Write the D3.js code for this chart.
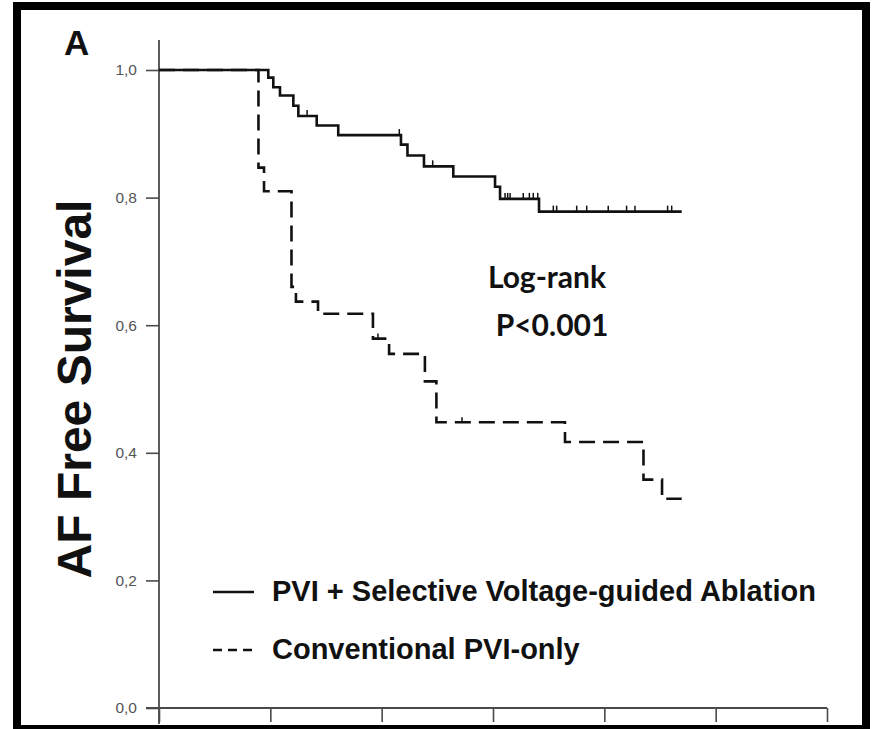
<!DOCTYPE html>
<html>
<head>
<meta charset="utf-8">
<script src="https://cdn.jsdelivr.net/npm/d3@7"></script>
<style>
  html, body { margin: 0; padding: 0; background: #fff; }
  svg { display: block; }
</style>
</head>
<body>
<svg id="chart" width="875" height="729"></svg>
<script>
// ---- data ----
const xTicks = [0, 6, 12, 18, 24, 30, 36];
const yTicks = [0, 0.2, 0.4, 0.6, 0.8, 1.0];
const yTickLabels = ["0,0", "0,2", "0,4", "0,6", "0,8", "1,0"];

const seriesNames = ["PVI + Selective Voltage-guided Ablation", "Conventional PVI-only"];

const solidTimes = [0, 5.89, 6.16, 6.52, 7.24, 7.51, 8.50, 9.66, 13.04, 13.39, 14.28, 15.86, 18.11, 18.38, 20.48, 28.17];
const solidSurv  = [1, 0.988, 0.973, 0.960, 0.944, 0.928, 0.913, 0.898, 0.883, 0.866, 0.849, 0.833, 0.817, 0.798, 0.778, 0.778];
const solidCensor = [7.98, 12.95, 14.75, 18.65, 18.79, 18.92, 19.63, 19.96, 20.17, 20.41, 21.25, 21.43, 22.51, 23.05, 24.21, 25.2, 25.65, 27.41, 27.63];

const dashedTimes = [0, 5.36, 5.66, 7.14, 7.38, 8.57, 11.53, 12.40, 14.33, 14.95, 21.88, 26.11, 27.11, 28.17];
const dashedSurv  = [1, 0.847, 0.81, 0.66, 0.637, 0.618, 0.579, 0.555, 0.512, 0.448, 0.417, 0.358, 0.328, 0.328];
const dashedCensor = [11.80, 16.33];

const yAxisTitle = "AF Free Survival";
const panelLabel = "A";
const statLines = ["Log-rank", "P<0.001"];

// ---- layout ----
const svg = d3.select("#chart");
const x = d3.scaleLinear().domain([0, 36]).range([159, 827]);
const y = d3.scaleLinear().domain([0, 1]).range([708, 70]);
const ink = "#111";
const axisGrey = "#4a4a4a";

// frame
svg.append("rect").attr("x", 17).attr("y", 6).attr("width", 849).attr("height", 723)
  .attr("fill", "none").attr("stroke", "#000").attr("stroke-width", 8);

// y axis
const yAxis = d3.axisLeft(y).tickValues(yTicks).tickSize(13).tickPadding(9)
  .tickFormat((d, i) => yTickLabels[i]);
const gy = svg.append("g").attr("transform", `translate(${x(0)},0)`).call(yAxis);
gy.select(".domain").remove();
gy.selectAll(".tick line").attr("stroke", axisGrey).attr("stroke-width", 1.6);
gy.selectAll(".tick text").attr("fill", "#555").attr("font-family", "Liberation Sans, Arial, sans-serif")
  .attr("font-size", 15.5);
svg.append("line").attr("x1", x(0)).attr("x2", x(0)).attr("y1", 40).attr("y2", 724)
  .attr("stroke", axisGrey).attr("stroke-width", 1.8);

// x axis
const xAxis = d3.axisBottom(x).tickValues(xTicks).tickSize(14).tickFormat("");
const gx = svg.append("g").attr("transform", `translate(0,${y(0)})`).call(xAxis);
gx.select(".domain").remove();
gx.selectAll(".tick line").attr("stroke", axisGrey).attr("stroke-width", 1.6);
svg.append("line").attr("x1", 146).attr("x2", x(36)).attr("y1", y(0)).attr("y2", y(0))
  .attr("stroke", axisGrey).attr("stroke-width", 1.8);

// KM curves
const line = d3.line().curve(d3.curveStepAfter).x(d => x(d[0])).y(d => y(d[1]));
const dashedData = dashedTimes.map((t, i) => [t, dashedSurv[i]]);
const solidData = solidTimes.map((t, i) => [t, solidSurv[i]]);

svg.append("path").datum(dashedData).attr("d", line).attr("fill", "none")
  .attr("stroke", ink).attr("stroke-width", 2.6).attr("stroke-dasharray", "16,8");
svg.append("path").datum(solidData).attr("d", line).attr("fill", "none")
  .attr("stroke", ink).attr("stroke-width", 2.6);

function levelAt(times, surv, t) {
  const i = d3.bisectRight(times, t) - 1;
  return surv[Math.max(0, i)];
}
svg.append("g").selectAll("line").data(solidCensor).join("line")
  .attr("x1", d => x(d)).attr("x2", d => x(d))
  .attr("y1", d => y(levelAt(solidTimes, solidSurv, d)))
  .attr("y2", d => y(levelAt(solidTimes, solidSurv, d)) - 6)
  .attr("stroke", ink).attr("stroke-width", 1.5);
svg.append("g").selectAll("line").data(dashedCensor).join("line")
  .attr("x1", d => x(d)).attr("x2", d => x(d))
  .attr("y1", d => y(levelAt(dashedTimes, dashedSurv, d)))
  .attr("y2", d => y(levelAt(dashedTimes, dashedSurv, d)) - 5)
  .attr("stroke", ink).attr("stroke-width", 1.5);

// panel label
svg.append("text").attr("x", 64).attr("y", 55).text(panelLabel)
  .attr("font-family", "Liberation Sans, Arial, sans-serif").attr("font-weight", "bold")
  .attr("font-size", 35).attr("fill", ink);

// y axis title
svg.append("text").attr("transform", "translate(91,389) rotate(-90)")
  .attr("text-anchor", "middle").text(yAxisTitle)
  .attr("font-family", "Liberation Sans, Arial, sans-serif").attr("font-weight", "bold")
  .attr("font-size", 48).attr("fill", ink);

// log-rank annotation
svg.append("text").attr("x", 547).attr("y", 288).attr("text-anchor", "middle").text(statLines[0])
  .attr("font-family", "Lato, Open Sans, sans-serif").attr("font-weight", "bold")
  .attr("font-size", 30).attr("fill", ink);
svg.append("text").attr("x", 552).attr("y", 336).attr("text-anchor", "middle").text(statLines[1])
  .attr("font-family", "Lato, Open Sans, sans-serif").attr("font-weight", "bold")
  .attr("font-size", 30).attr("fill", ink);

// legend
const legend = svg.append("g");
legend.append("line").attr("x1", 213).attr("x2", 254).attr("y1", 592).attr("y2", 592)
  .attr("stroke", ink).attr("stroke-width", 2.6);
legend.append("line").attr("x1", 213).attr("x2", 254).attr("y1", 650).attr("y2", 650)
  .attr("stroke", ink).attr("stroke-width", 2.6).attr("stroke-dasharray", "9,6");
legend.append("text").attr("x", 272).attr("y", 601).text(seriesNames[0])
  .attr("font-family", "Liberation Sans, Arial, sans-serif").attr("font-weight", "bold")
  .attr("font-size", 29).attr("fill", ink);
legend.append("text").attr("x", 272).attr("y", 659).text(seriesNames[1])
  .attr("font-family", "Liberation Sans, Arial, sans-serif").attr("font-weight", "bold")
  .attr("font-size", 29).attr("fill", ink);
</script>
</body>
</html>
